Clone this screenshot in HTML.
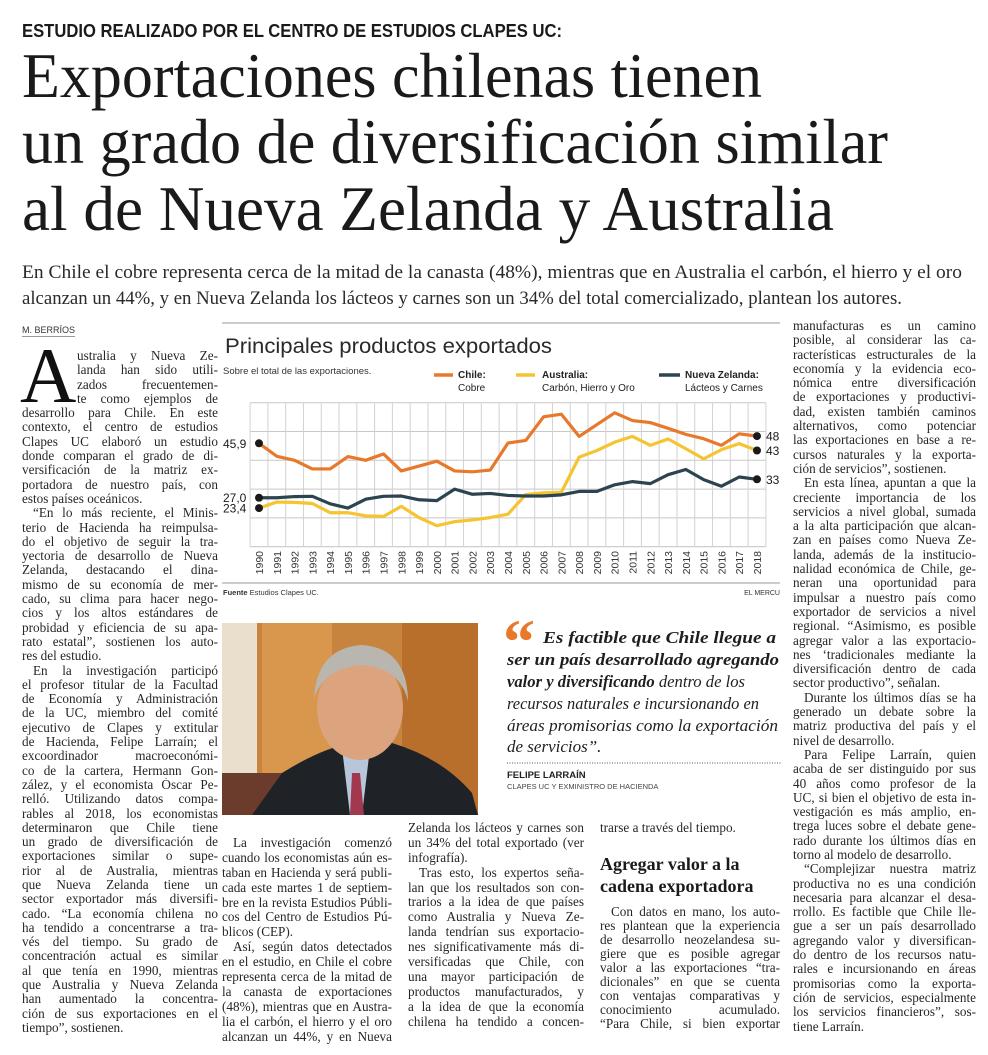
<!DOCTYPE html>
<html><head><meta charset="utf-8">
<style>
html,body{margin:0;padding:0;background:#fff;}
body{width:988px;height:1055px;position:relative;overflow:hidden;color:#1e1e1e;}
.abs{position:absolute;}
.col{position:absolute;font-family:"Liberation Serif",serif;font-size:13.2px;color:#262626;}
.col div{text-align:justify;text-align-last:justify;overflow:hidden;white-space:normal;}
.col div.l{text-align-last:left;}
.col div.i{text-indent:11px;}
.lh143 div{height:14.3px;line-height:14.3px;}
.lh149 div{height:14.9px;line-height:14.9px;}
.lh14 div{height:14px;line-height:14px;}
.subhead{font-family:"Liberation Serif",serif;font-weight:bold;font-size:18px;line-height:22px;color:#1a1a1a;}
</style></head>
<body>
<svg class="abs" style="left:0;top:0" width="988" height="320">
  <text x="22" y="37" font-family="Liberation Sans Narrow, Liberation Sans, sans-serif" font-weight="bold" font-size="18" textLength="540" lengthAdjust="spacingAndGlyphs" fill="#1a1a1a">ESTUDIO REALIZADO POR EL CENTRO DE ESTUDIOS CLAPES UC:</text>
  <g font-family="Liberation Serif, serif" font-size="63" fill="#1a1a1a">
    <text x="22" y="97" textLength="740" lengthAdjust="spacingAndGlyphs">Exportaciones chilenas tienen</text>
    <text x="22" y="163" textLength="866" lengthAdjust="spacingAndGlyphs">un grado de diversificación similar</text>
    <text x="22" y="230" textLength="812" lengthAdjust="spacingAndGlyphs">al de Nueva Zelanda y Australia</text>
  </g>
  <g font-family="Liberation Serif, serif" font-size="18.5" fill="#2a2a2a">
    <text x="22" y="278" textLength="940" lengthAdjust="spacingAndGlyphs">En Chile el cobre representa cerca de la mitad de la canasta (48%), mientras que en Australia el carbón, el hierro y el oro</text>
    <text x="22" y="304" textLength="880" lengthAdjust="spacingAndGlyphs">alcanzan un 44%, y en Nueva Zelanda los lácteos y carnes son un 34% del total comercializado, plantean los autores.</text>
  </g>
</svg>

<div class="abs" style="left:22px;top:325px;font:9px 'Liberation Sans',sans-serif;color:#333;border-bottom:1px solid #999;padding-bottom:1px">M. BERRÍOS</div>

<div class="abs" style="left:20px;top:337px;font:78px/78px 'Liberation Serif',serif;color:#111">A</div>

<div class="col lh143" style="left:22px;top:349px;width:196px">
<div style="margin-left:55px">ustralia y Nueva Ze-</div>
<div style="margin-left:55px">landa han sido utili-</div>
<div style="margin-left:55px">zados frecuentemen-</div>
<div style="margin-left:55px">te como ejemplos de</div>
<div>desarrollo para Chile. En este</div>
<div>contexto, el centro de estudios</div>
<div>Clapes UC elaboró un estudio</div>
<div>donde comparan el grado de di-</div>
<div>versificación de la matriz ex-</div>
<div>portadora de nuestro país, con</div>
<div class="l">estos países oceánicos.</div>
<div class="i">“En lo más reciente, el Minis-</div>
<div>terio de Hacienda ha reimpulsa-</div>
<div>do el objetivo de seguir la tra-</div>
<div>yectoria de desarrollo de Nueva</div>
<div>Zelanda, destacando el dina-</div>
<div>mismo de su economía de mer-</div>
<div>cado, su clima para hacer nego-</div>
<div>cios y los altos estándares de</div>
<div>probidad y eficiencia de su apa-</div>
<div>rato estatal”, sostienen los auto-</div>
<div class="l">res del estudio.</div>
<div class="i">En la investigación participó</div>
<div>el profesor titular de la Facultad</div>
<div>de Economía y Administración</div>
<div>de la UC, miembro del comité</div>
<div>ejecutivo de Clapes y extitular</div>
<div>de Hacienda, Felipe Larraín; el</div>
<div>excoordinador macroeconómi-</div>
<div>co de la cartera, Hermann Gon-</div>
<div>zález, y el economista Óscar Pe-</div>
<div>relló. Utilizando datos compa-</div>
<div>rables al 2018, los economistas</div>
<div>determinaron que Chile tiene</div>
<div>un grado de diversificación de</div>
<div>exportaciones similar o supe-</div>
<div>rior al de Australia, mientras</div>
<div>que Nueva Zelanda tiene un</div>
<div>sector exportador más diversifi-</div>
<div>cado. “La economía chilena no</div>
<div>ha tendido a concentrarse a tra-</div>
<div>vés del tiempo. Su grado de</div>
<div>concentración actual es similar</div>
<div>al que tenía en 1990, mientras</div>
<div>que Australia y Nueva Zelanda</div>
<div>han aumentado la concentra-</div>
<div>ción de sus exportaciones en el</div>
<div class="l">tiempo”, sostienen.</div>
</div>

<div class="col lh143" style="left:793px;top:319px;width:183px">
<div>manufacturas es un camino</div>
<div>posible, al considerar las ca-</div>
<div>racterísticas estructurales de la</div>
<div>economía y la evidencia eco-</div>
<div>nómica entre diversificación</div>
<div>de exportaciones y productivi-</div>
<div>dad, existen también caminos</div>
<div>alternativos, como potenciar</div>
<div>las exportaciones en base a re-</div>
<div>cursos naturales y la exporta-</div>
<div class="l">ción de servicios”, sostienen.</div>
<div class="i">En esta línea, apuntan a que la</div>
<div>creciente importancia de los</div>
<div>servicios a nivel global, sumada</div>
<div>a la alta participación que alcan-</div>
<div>zan en países como Nueva Ze-</div>
<div>landa, además de la institucio-</div>
<div>nalidad económica de Chile, ge-</div>
<div>neran una oportunidad para</div>
<div>impulsar a nuestro país como</div>
<div>exportador de servicios a nivel</div>
<div>regional. “Asimismo, es posible</div>
<div>agregar valor a las exportacio-</div>
<div>nes ‘tradicionales mediante la</div>
<div>diversificación dentro de cada</div>
<div class="l">sector productivo”, señalan.</div>
<div class="i">Durante los últimos días se ha</div>
<div>generado un debate sobre la</div>
<div>matriz productiva del país y el</div>
<div class="l">nivel de desarrollo.</div>
<div class="i">Para Felipe Larraín, quien</div>
<div>acaba de ser distinguido por sus</div>
<div>40 años como profesor de la</div>
<div>UC, si bien el objetivo de esta in-</div>
<div>vestigación es más amplio, en-</div>
<div>trega luces sobre el debate gene-</div>
<div>rado durante los últimos días en</div>
<div class="l">torno al modelo de desarrollo.</div>
<div class="i">“Complejizar nuestra matriz</div>
<div>productiva no es una condición</div>
<div>necesaria para alcanzar el desa-</div>
<div>rrollo. Es factible que Chile lle-</div>
<div>gue a ser un país desarrollado</div>
<div>agregando valor y diversifican-</div>
<div>do dentro de los recursos natu-</div>
<div>rales e incursionando en áreas</div>
<div>promisorias como la exporta-</div>
<div>ción de servicios, especialmente</div>
<div>los servicios financieros”, sos-</div>
<div class="l">tiene Larraín.</div>
</div>

<div class="col lh149" style="left:222px;top:836px;width:170px">
<div class="i">La investigación comenzó</div>
<div>cuando los economistas aún es-</div>
<div>taban en Hacienda y será publi-</div>
<div>cada este martes 1 de septiem-</div>
<div>bre en la revista Estudios Públi-</div>
<div>cos del Centro de Estudios Pú-</div>
<div class="l">blicos (CEP).</div>
<div class="i">Así, según datos detectados</div>
<div>en el estudio, en Chile el cobre</div>
<div>representa cerca de la mitad de</div>
<div>la canasta de exportaciones</div>
<div>(48%), mientras que en Austra-</div>
<div>lia el carbón, el hierro y el oro</div>
<div>alcanzan un 44%, y en Nueva</div>
</div>

<div class="col lh149" style="left:408px;top:821px;width:176px">
<div>Zelanda los lácteos y carnes son</div>
<div>un 34% del total exportado (ver</div>
<div class="l">infografía).</div>
<div class="i">Tras esto, los expertos seña-</div>
<div>lan que los resultados son con-</div>
<div>trarios a la idea de que países</div>
<div>como Australia y Nueva Ze-</div>
<div>landa tendrían sus exportacio-</div>
<div>nes significativamente más di-</div>
<div>versificadas que Chile, con</div>
<div>una mayor participación de</div>
<div>productos manufacturados, y</div>
<div>a la idea de que la economía</div>
<div>chilena ha tendido a concen-</div>
</div>

<div class="col lh14" style="left:600px;top:821px;width:180px">
<div class="l">trarse a través del tiempo.</div>
</div>
<div class="abs subhead" style="left:600px;top:853px">Agregar valor a la<br>cadena exportadora</div>
<div class="col lh14" style="left:600px;top:905px;width:180px">
<div class="i">Con datos en mano, los auto-</div>
<div>res plantean que la experiencia</div>
<div>de desarrollo neozelandesa su-</div>
<div>giere que es posible agregar</div>
<div>valor a las exportaciones “tra-</div>
<div>dicionales” en que se cuenta</div>
<div>con ventajas comparativas y</div>
<div>conocimiento acumulado.</div>
<div>“Para Chile, si bien exportar</div>
</div>

<!-- photo -->
<svg class="abs" style="left:222px;top:623px" width="256" height="192">
  <rect width="256" height="192" fill="#c7843f"/>
  <rect x="0" y="0" width="35" height="192" fill="#e9dfcc"/>
  <rect x="40" y="0" width="70" height="192" fill="#d8974c"/>
  <rect x="180" y="0" width="76" height="192" fill="#b96f2c"/>
  <rect x="0" y="150" width="60" height="42" fill="#6b3b2b"/>
  <path d="M30 192 L60 150 Q100 125 130 120 L170 120 Q220 135 250 170 L256 192 Z" fill="#1f2226"/>
  <path d="M120 125 L148 125 L140 192 L128 192 Z" fill="#b8c6dc"/>
  <path d="M130 150 L138 150 L142 192 L128 192 Z" fill="#a2384d"/>
  <ellipse cx="138" cy="85" rx="43" ry="52" fill="#dba37e"/>
  <path d="M92 75 Q95 25 140 22 Q185 25 186 78 Q178 45 140 42 Q102 45 92 75 Z" fill="#b9b6b0"/>
</svg>

<!-- quote -->
<div class="abs" style="left:503px;top:610px;font:bold 64px/64px 'Liberation Serif',serif;color:#e8782a">“</div>
<svg class="abs" style="left:500px;top:625px" width="285" height="175">
  <g font-family="Liberation Serif, serif" font-style="italic" font-size="17" fill="#1e1e1e">
    <text x="43" y="18" font-weight="bold" textLength="233" lengthAdjust="spacingAndGlyphs">Es factible que Chile llegue a</text>
    <text x="7" y="40" font-weight="bold" textLength="272" lengthAdjust="spacingAndGlyphs">ser un país desarrollado agregando</text>
    <text x="7" y="62" textLength="238" lengthAdjust="spacingAndGlyphs"><tspan font-weight="bold">valor y diversificando</tspan> dentro de los</text>
    <text x="7" y="84" textLength="252" lengthAdjust="spacingAndGlyphs">recursos naturales e incursionando en</text>
    <text x="7" y="106" textLength="271" lengthAdjust="spacingAndGlyphs">áreas promisorias como la exportación</text>
    <text x="7" y="127">de servicios”.</text>
  </g>
  <line x1="7" y1="138" x2="281" y2="138" stroke="#555" stroke-width="1" stroke-dasharray="1,1.5"/>
  <text x="7" y="153" font-family="Liberation Sans, sans-serif" font-weight="bold" font-size="9.5" fill="#222">FELIPE LARRAÍN</text>
  <text x="7" y="164" font-family="Liberation Sans, sans-serif" font-size="7.5" fill="#444">CLAPES UC Y EXMINISTRO DE HACIENDA</text>
</svg>

<!-- chart -->
<svg id="chart" class="abs" style="left:0;top:0" width="988" height="610">
  <line x1="222" y1="323" x2="780" y2="323" stroke="#999" stroke-width="1"/>
  <text x="225" y="353" font-family="Liberation Sans, sans-serif" font-size="21" fill="#2a2a2a" textLength="327" lengthAdjust="spacingAndGlyphs">Principales productos exportados</text>
  <text x="223" y="374" font-family="Liberation Sans, sans-serif" font-size="9.5" fill="#333">Sobre el total de las exportaciones.</text>
  <g font-family="Liberation Sans, sans-serif" font-size="10" fill="#222">
    <g><line x1="434" y1="375" x2="453" y2="375" stroke="#e8782a" stroke-width="3.5"/><text x="458" y="378" font-weight="bold">Chile:</text><text x="458" y="391">Cobre</text></g>
    <g><line x1="516" y1="375" x2="535" y2="375" stroke="#f5c431" stroke-width="3.5"/><text x="542" y="378" font-weight="bold">Australia:</text><text x="542" y="391">Carbón, Hierro y Oro</text></g>
    <g><line x1="659" y1="375" x2="680" y2="375" stroke="#2c4450" stroke-width="3.5"/><text x="685" y="378" font-weight="bold">Nueva Zelanda:</text><text x="685" y="391">Lácteos y Carnes</text></g>
  </g>
  <g id="grid"></g>
  <g id="series"></g>
  <g id="xlabels" font-family="Liberation Sans, sans-serif" font-size="10.5" fill="#333"></g>
  <g id="vlabels" font-family="Liberation Sans, sans-serif" font-size="12" fill="#1a1a1a"></g>
  <line x1="222" y1="583" x2="780" y2="583" stroke="#999" stroke-width="1"/>
  <text x="223" y="595" font-family="Liberation Sans, sans-serif" font-size="7.5" fill="#333"><tspan font-weight="bold">Fuente</tspan>  Estudios Clapes UC.</text>
  <text x="780" y="595" text-anchor="end" font-family="Liberation Sans, sans-serif" font-size="7" fill="#333">EL MERCU</text>
</svg>

<script>
const years = [1990,1991,1992,1993,1994,1995,1996,1997,1998,1999,2000,2001,2002,2003,2004,2005,2006,2007,2008,2009,2010,2011,2012,2013,2014,2015,2016,2017,2018];
const chile = [45.9,41.4,40,37,37,41.3,40,42.2,36.3,38,39.7,36.3,36,36.6,46,46.9,55.1,56,48.3,52.4,56.5,53.8,53.1,51.1,49,47.5,45.2,49.2,48.4];
const australia = [23.4,25.5,25.4,25,21.8,21.8,20.7,20.5,24,20.1,17.3,18.7,19.3,20.1,21.3,28.1,28.7,28.9,41.1,43.4,46.3,48.3,45.2,47.4,44,40.5,43.7,45.8,43.4];
const nz = [27,27,27.4,27.5,24.9,23.4,26.5,27.5,27.6,26.3,26,30,28.2,28.5,27.8,27.6,27.6,28,29.2,29.2,31.5,32.6,31.9,35,36.8,33.3,31,34.2,33.4];
const yTicks = [10,20,30,40,50,60];

const NS = "http://www.w3.org/2000/svg";
const X0 = 259, X1 = 757, Y0 = 546.7, Y1 = 402.7, VMIN = 10, VMAX = 60;
function xs(i){ return X0 + (X1 - X0) * i / (years.length - 1); }
function ys(v){ return Y0 - (v - VMIN) * (Y0 - Y1) / (VMAX - VMIN); }
const step = (X1 - X0) / (years.length - 1);

const grid = document.getElementById('grid');
yTicks.forEach(function(t){
  const l = document.createElementNS(NS,'line');
  l.setAttribute('x1', X0 - step/2); l.setAttribute('x2', X1 + step/2);
  l.setAttribute('y1', ys(t)); l.setAttribute('y2', ys(t));
  l.setAttribute('stroke', '#c8c8c8'); l.setAttribute('stroke-width', t===VMIN?1.2:1);
  
  
  grid.appendChild(l);
});
for (let i = 0; i <= years.length; i++) {
  const x = X0 - step/2 + i*step;
  const l = document.createElementNS(NS,'line');
  l.setAttribute('x1', x); l.setAttribute('x2', x);
  l.setAttribute('y1', ys(VMAX)); l.setAttribute('y2', ys(VMIN));
  l.setAttribute('stroke', '#d2d2d2'); l.setAttribute('stroke-width', 1);
  
  
  grid.appendChild(l);
}

const xl = document.getElementById('xlabels');
years.forEach(function(y, i){
  const t = document.createElementNS(NS,'text');
  t.setAttribute('transform', 'translate(' + (xs(i) + 4) + ',551) rotate(-90)');
  t.setAttribute('text-anchor', 'end');
  t.textContent = y;
  
  
  xl.appendChild(t);
});

const seriesG = document.getElementById('series');
const seriesList = [[chile,'#e8782a','line-chile'],[australia,'#f5c431','line-australia'],[nz,'#2c4450','line-nueva-zelanda']];
seriesList.forEach(function(s){
  const p = document.createElementNS(NS,'polyline');
  p.setAttribute('points', s[0].map(function(v,i){ return xs(i) + ',' + ys(v); }).join(' '));
  p.setAttribute('fill', 'none'); p.setAttribute('stroke', s[1]);
  p.setAttribute('stroke-width', 3.2); p.setAttribute('stroke-linejoin', 'round');
  
  
  seriesG.appendChild(p);
});
const vl = document.getElementById('vlabels');
seriesList.forEach(function(s){
  const a = s[0], n = a.length - 1;
  [[0, a[0]],[n, a[n]]].forEach(function(pt){
    const c = document.createElementNS(NS,'circle');
    c.setAttribute('cx', xs(pt[0])); c.setAttribute('cy', ys(pt[1])); c.setAttribute('r', 4);
    c.setAttribute('fill', '#1a1a1a');
    
    
    seriesG.appendChild(c);
  });
  const t1 = document.createElementNS(NS,'text');
  t1.setAttribute('x', 223); t1.setAttribute('y', ys(a[0]) + 4.5);
  t1.textContent = a[0].toFixed(1).replace('.', ',');
  
  
  vl.appendChild(t1);
  const t2 = document.createElementNS(NS,'text');
  t2.setAttribute('x', 766); t2.setAttribute('y', ys(a[n]) + 4.5);
  t2.textContent = Math.round(a[n]);
  
  
  vl.appendChild(t2);
});
</script>
</body></html>
